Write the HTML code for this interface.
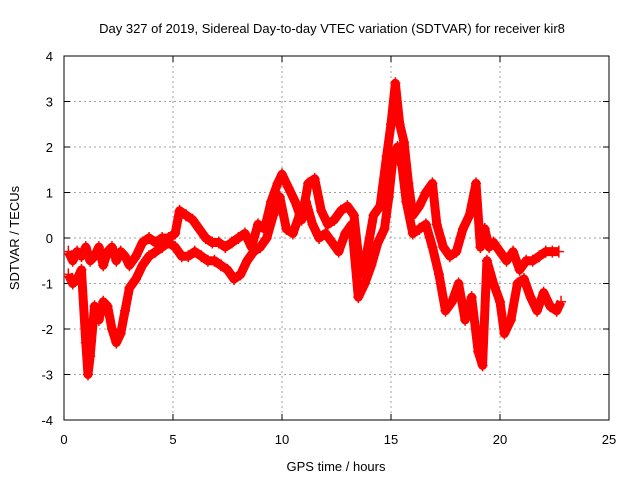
<!DOCTYPE html>
<html><head><meta charset="utf-8"><style>
body{margin:0;background:#fff}
svg text{font-family:"Liberation Sans",sans-serif;font-size:13px;fill:#000}
</style></head><body>
<svg id="chart" width="640" height="480" viewBox="0 0 640 480">
<text x="332" y="33" text-anchor="middle">Day 327 of 2019, Sidereal Day-to-day VTEC variation (SDTVAR) for receiver kir8</text>
<g id="grid"></g>
<g id="axes"></g>
<g id="marks"></g>
<text x="336" y="471" text-anchor="middle">GPS time / hours</text>
<text transform="translate(19,238) rotate(-90)" text-anchor="middle">SDTVAR / TECUs</text>
</svg>
<script>
const xTicks=[0,5,10,15,20,25];
const yTicks=[-4,-3,-2,-1,0,1,2,3,4];
// upper track
const upperT=[0.2,0.4,0.6,0.8,1.0,1.2,1.4,1.6,1.8,2.0,2.2,2.4,2.6,2.8,3.0,3.3,3.6,3.9,4.2,4.5,4.8,5.1,5.3,5.6,5.9,6.2,6.5,6.8,7.1,7.4,7.7,8.0,8.3,8.6,8.9,9.2,9.5,9.8,10.0,10.3,10.6,10.9,11.2,11.5,11.8,12.1,12.4,12.7,13.0,13.3,13.6,13.9,14.2,14.5,14.8,15.0,15.2,15.4,15.6,15.8,16.0,16.3,16.6,16.9,17.1,17.4,17.7,18.0,18.3,18.6,18.9,19.1,19.3,19.5,19.7,20.0,20.3,20.6,20.9,21.2,21.5,21.8,22.1,22.4,22.7];
const upperV=[-0.3,-0.5,-0.3,-0.4,-0.2,-0.5,-0.4,-0.2,-0.6,-0.3,-0.2,-0.5,-0.3,-0.4,-0.6,-0.4,-0.1,0,-0.1,0,0,0.1,0.6,0.5,0.4,0.2,0,-0.1,-0.1,-0.2,-0.1,0,0.1,-0.2,0.3,0.2,0.8,1.2,1.4,1.1,0.8,0.4,1.2,1.3,0.6,0.3,0.4,0.6,0.7,0.5,-0.8,-0.3,0.5,0.7,1.8,2.5,3.4,2.5,2.1,1.2,0.5,0.7,1.0,1.2,0.3,-0.2,-0.4,-0.3,0.2,0.5,1.2,-0.2,0.2,-0.2,-0.1,-0.3,-0.5,-0.3,-0.7,-0.5,-0.5,-0.4,-0.3,-0.3,-0.3];
// lower track
const lowerT=[0.2,0.4,0.6,0.8,1.0,1.1,1.2,1.4,1.6,1.8,2.0,2.2,2.4,2.6,2.8,3.0,3.3,3.6,3.9,4.2,4.5,4.8,5.1,5.4,5.7,6.0,6.3,6.6,6.9,7.2,7.5,7.8,8.1,8.4,8.7,9.0,9.3,9.6,9.9,10.2,10.5,10.8,11.1,11.4,11.7,12.0,12.3,12.6,12.9,13.2,13.5,13.8,14.1,14.4,14.7,14.9,15.1,15.3,15.5,15.7,16.0,16.3,16.6,16.9,17.2,17.5,17.8,18.1,18.4,18.7,19.0,19.2,19.4,19.7,20.0,20.2,20.5,20.8,21.1,21.4,21.7,22.0,22.3,22.6,22.8];
const lowerV=[-0.8,-1.0,-0.9,-0.7,-2.3,-3.0,-2.6,-1.5,-1.8,-1.4,-1.5,-2.0,-2.3,-2.1,-1.6,-1.1,-0.9,-0.6,-0.4,-0.3,-0.2,-0.1,-0.2,-0.4,-0.4,-0.3,-0.4,-0.5,-0.5,-0.6,-0.7,-0.9,-0.8,-0.5,-0.3,-0.2,0,0.5,0.9,0.2,0.1,0.5,0.8,0.3,0.0,0.1,-0.1,-0.3,0.1,0.3,-1.3,-1.0,-0.6,-0.1,0.2,0.9,1.8,2.0,1.6,0.8,0.1,0.2,0.3,-0.2,-0.8,-1.6,-1.4,-1.0,-1.8,-1.3,-2.5,-2.8,-0.5,-1.0,-1.4,-2.1,-1.8,-1.0,-0.9,-1.3,-1.6,-1.2,-1.5,-1.6,-1.4];
const W=640,X0=64,X1=609,Y0=420,Y1=56;
const xs=t=>X0+(t-0)/(25-0)*(X1-X0);
const ys=v=>Y0-(v+4)/8*(Y0-Y1);
const NS='http://www.w3.org/2000/svg';
const grid=document.getElementById('grid'),axes=document.getElementById('axes'),marks=document.getElementById('marks');
function mk(tag,at,parent){const e=document.createElementNS(NS,tag);for(const k in at)e.setAttribute(k,at[k]);parent.appendChild(e);return e;}
xTicks.forEach(t=>{
 const x=xs(t);
 if(t>0&&t<25){const g=mk('line',{x1:x,x2:x,y1:Y1,y2:Y0,stroke:'#a0a0a0','stroke-dasharray':'2,3'},grid);
 
 }
 const tx=mk('text',{x:x,y:Y0+24,'text-anchor':'middle'},axes);tx.textContent=t;
 
 
 mk('line',{x1:x,x2:x,y1:Y0,y2:Y0-6,stroke:'#000'},axes);
 mk('line',{x1:x,x2:x,y1:Y1,y2:Y1+6,stroke:'#000'},axes);
});
yTicks.forEach(v=>{
 const y=ys(v);
 if(v>-4&&v<4){const g=mk('line',{x1:X0,x2:X1,y1:y,y2:y,stroke:'#a0a0a0','stroke-dasharray':'2,3'},grid);
 
 }
 const tx=mk('text',{x:X0-11,y:y+5,'text-anchor':'end'},axes);tx.textContent=v;
 
 
 mk('line',{x1:X0,x2:X0+6,y1:y,y2:y,stroke:'#000'},axes);
 mk('line',{x1:X1,x2:X1-6,y1:y,y2:y,stroke:'#000'},axes);
});
const fr=mk('rect',{x:X0,y:Y1,width:X1-X0,height:Y0-Y1,fill:'none',stroke:'#000'},axes);


function series(T,V,name){
 const pl=mk('polyline',{points:T.map((t,i)=>xs(t)+','+ys(V[i])).join(' '),fill:'none',stroke:'#f00','stroke-width':9,'stroke-linejoin':'round'},marks);
 
 
 T.forEach((t,i)=>{const x=xs(t),y=ys(V[i]);
  const p=mk('path',{d:`M${x-5},${y}h10M${x},${y-6}v12`,stroke:'#f00','stroke-width':1.5},marks);
  
  });
}
series(upperT,upperV,'upper-track');
series(lowerT,lowerV,'lower-track');
</script>
</body></html>
